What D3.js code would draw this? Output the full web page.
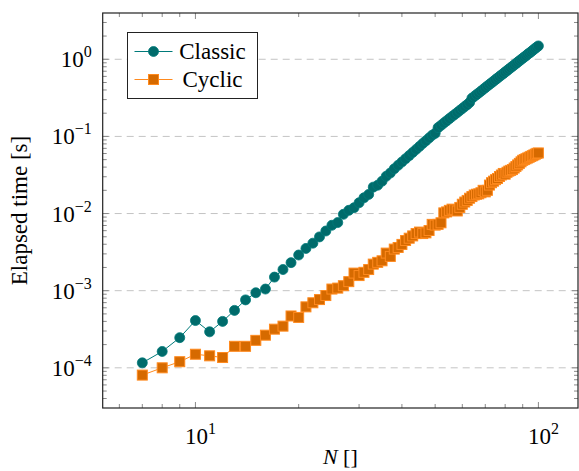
<!DOCTYPE html>
<html>
<head>
<meta charset="utf-8">
<script src="https://cdn.jsdelivr.net/npm/d3@7"></script>
<style>
  body { margin: 0; background: #fff; }
</style>
</head>
<body>
<div id="chart"></div>
<script>
var w = 579;
var h = 471;

// problem sizes N = 7..100
var sizes = [];
for (var n = 7; n <= 100; n++) sizes.push(n);

// elapsed time [s]
var classicTimes = [
  1.16e-4, 1.63e-4, 2.46e-4, 4.1e-4, 2.93e-4, 4.0e-4, 5.55e-4, 7.6e-4, 9.4e-4, 1.05e-3,
  1.5e-3, 1.88e-3, 2.31e-3, 2.9e-3, 3.53e-3, 4.13e-3, 4.98e-3, 5.94e-3, 7.05e-3, 7.64e-3,
  9.77e-3, 1.10e-2, 1.19e-2, 1.38e-2, 1.60e-2, 1.77e-2, 2.20e-2, 2.33e-2, 2.62e-2, 3.04e-2,
  3.35e-2, 3.80e-2, 4.22e-2, 4.66e-2, 5.13e-2, 5.64e-2, 6.19e-2, 6.78e-2, 7.41e-2, 8.09e-2,
  8.79e-2, 9.55e-2, 0.1035, 0.1096, 0.130, 0.139, 0.149, 0.159, 0.170, 0.181,
  0.192, 0.204, 0.217, 0.230, 0.244, 0.258, 0.275, 0.313, 0.330, 0.348,
  0.366, 0.386, 0.406, 0.428, 0.450, 0.472, 0.495, 0.519, 0.545, 0.570,
  0.597, 0.624, 0.652, 0.682, 0.713, 0.743, 0.776, 0.809, 0.843, 0.879,
  0.914, 0.953, 0.991, 1.03, 1.07, 1.11, 1.16, 1.20, 1.24, 1.29,
  1.34, 1.39, 1.44, 1.49
];

var cyclicTimes = [
  8.05e-5, 1.0e-4, 1.2e-4, 1.5e-4, 1.43e-4, 1.36e-4, 1.9e-4, 1.9e-4, 2.27e-4, 2.65e-4,
  3.17e-4, 3.47e-4, 4.7e-4, 4.5e-4, 6.17e-4, 6.97e-4, 7.67e-4, 8.65e-4, 1.05e-3, 1.08e-3,
  1.16e-3, 1.31e-3, 1.69e-3, 1.57e-3, 1.73e-3, 1.88e-3, 2.21e-3, 2.33e-3, 2.44e-3, 3.07e-3,
  2.78e-3, 3.46e-3, 3.63e-3, 3.98e-3, 4.47e-3, 4.79e-3, 5.13e-3, 5.50e-3, 5.75e-3, 5.50e-3,
  5.62e-3, 6.03e-3, 7.24e-3, 7.08e-3, 7.24e-3, 7.59e-3, 1.02e-2, 1.05e-2, 1.10e-2, 1.14e-2,
  1.12e-2, 1.08e-2, 1.20e-2, 1.32e-2, 1.41e-2, 1.48e-2, 1.58e-2, 1.66e-2, 1.74e-2, 1.78e-2,
  1.80e-2, 1.86e-2, 2.00e-2, 1.91e-2, 2.00e-2, 2.34e-2, 2.51e-2, 2.63e-2, 2.75e-2, 2.85e-2,
  3.02e-2, 3.16e-2, 3.31e-2, 3.24e-2, 3.43e-2, 3.55e-2, 3.63e-2, 3.72e-2, 3.89e-2, 4.07e-2,
  4.27e-2, 4.47e-2, 4.68e-2, 4.90e-2, 5.01e-2, 5.13e-2, 5.25e-2, 5.37e-2, 5.50e-2, 5.62e-2,
  5.75e-2, 5.89e-2, 6.03e-2, 6.10e-2
];

var seriesNames = ["Classic", "Cyclic"];

var margin = { left: 102.7, right: 1, top: 13, bottom: 63 };
var plotW = w - margin.left - margin.right;
var plotH = h - margin.top - margin.bottom;

// log limits enlarged by 10% on each side, like pgfplots
function enlarged(lo, hi) {
  var a = Math.log10(lo), b = Math.log10(hi), d = (b - a) * 0.1;
  return [Math.pow(10, a - d), Math.pow(10, b + d)];
}
var allTimes = classicTimes.concat(cyclicTimes);

var x = d3.scaleLog()
  .domain(enlarged(d3.min(sizes), d3.max(sizes)))
  .range([0, plotW]);
var y = d3.scaleLog()
  .domain(enlarged(d3.min(allTimes), d3.max(allTimes)))
  .range([plotH, 0]);

var svg = d3.select("#chart").append("svg")
  .attr("width", w)
  .attr("height", h)
  .attr("font-family", "'Liberation Serif', 'Times New Roman', serif");

var g = svg.append("g")
  .attr("transform", "translate(" + margin.left + "," + margin.top + ")");

function isMajor(v) {
  var l = Math.log10(v);
  return Math.abs(l - Math.round(l)) < 1e-9;
}

var xTicks = x.ticks();
var yTicks = y.ticks();

// dashed grid on major y ticks
g.selectAll(".grid")
  .data(yTicks.filter(isMajor))
  .enter().append("line")
  .attr("x1", 0).attr("x2", plotW)
  .attr("y1", function(d) { return y(d); })
  .attr("y2", function(d) { return y(d); })
  .attr("stroke", "#c4c4c4")
  .attr("stroke-width", 1)
  .attr("stroke-dasharray", "7,5");

// ticks on all four sides, pointing in
var tickCol = "#8a8a8a";
xTicks.forEach(function(t) {
  var len = isMajor(t) ? 6 : 4;
  g.append("line").attr("x1", x(t)).attr("x2", x(t))
    .attr("y1", plotH).attr("y2", plotH - len)
    .attr("stroke", tickCol).attr("stroke-width", 1);
  g.append("line").attr("x1", x(t)).attr("x2", x(t))
    .attr("y1", 0).attr("y2", len)
    .attr("stroke", tickCol).attr("stroke-width", 1);
});
yTicks.forEach(function(t) {
  var len = isMajor(t) ? 6 : 4;
  g.append("line").attr("y1", y(t)).attr("y2", y(t))
    .attr("x1", 0).attr("x2", len)
    .attr("stroke", tickCol).attr("stroke-width", 1);
  g.append("line").attr("y1", y(t)).attr("y2", y(t))
    .attr("x1", plotW).attr("x2", plotW - len)
    .attr("stroke", tickCol).attr("stroke-width", 1);
});

// tick labels as 10^k
function powLabel(sel, exp) {
  sel.append("tspan").text("10");
  sel.append("tspan")
    .attr("dy", -10)
    .attr("font-size", 16)
    .text(exp < 0 ? "\u2212" + (-exp) : exp);
}
xTicks.filter(isMajor).forEach(function(t) {
  var txt = g.append("text")
    .attr("x", x(t) + 5)
    .attr("y", plotH + 36)
    .attr("text-anchor", "middle")
    .attr("font-size", 23);
  powLabel(txt, Math.round(Math.log10(t)));
});
yTicks.filter(isMajor).forEach(function(t) {
  var txt = g.append("text")
    .attr("x", -11)
    .attr("y", y(t) + 8)
    .attr("text-anchor", "end")
    .attr("font-size", 23);
  powLabel(txt, Math.round(Math.log10(t)));
});

// frame
g.append("rect")
  .attr("width", plotW).attr("height", plotH)
  .attr("fill", "none")
  .attr("stroke", "#222")
  .attr("stroke-width", 1.2);

// series
var line = d3.line()
  .x(function(d) { return x(d[0]); })
  .y(function(d) { return y(d[1]); });

var classic = sizes.map(function(n, i) { return [n, classicTimes[i]]; });
var cyclic = sizes.map(function(n, i) { return [n, cyclicTimes[i]]; });

var teal = "#007a7a", tealFill = "#006b6b";
var orange = "#ff8a1e", orangeFill = "#d66a00";

g.append("path").datum(classic)
  .attr("d", line).attr("fill", "none")
  .attr("stroke", teal).attr("stroke-width", 1);
g.selectAll(".mc").data(classic).enter().append("circle")
  .attr("cx", function(d) { return x(d[0]); })
  .attr("cy", function(d) { return y(d[1]); })
  .attr("r", 5)
  .attr("fill", tealFill)
  .attr("stroke", teal).attr("stroke-width", 0.8);

g.append("path").datum(cyclic)
  .attr("d", line).attr("fill", "none")
  .attr("stroke", orange).attr("stroke-width", 1);
g.selectAll(".ms").data(cyclic).enter().append("rect")
  .attr("x", function(d) { return x(d[0]) - 5; })
  .attr("y", function(d) { return y(d[1]) - 5; })
  .attr("width", 10).attr("height", 10)
  .attr("fill", orangeFill)
  .attr("stroke", orange).attr("stroke-width", 1);

// legend
var lg = svg.append("g").attr("transform", "translate(127.5,32.5)");
lg.append("rect")
  .attr("width", 130).attr("height", 66)
  .attr("fill", "#fff").attr("stroke", "#222").attr("stroke-width", 1);
seriesNames.forEach(function(name, i) {
  var cy = 19 + i * 28;
  lg.append("line").attr("x1", 7).attr("x2", 45)
    .attr("y1", cy).attr("y2", cy)
    .attr("stroke", i == 0 ? teal : orange).attr("stroke-width", 1);
  if (i == 0) {
    lg.append("circle").attr("cx", 26).attr("cy", cy).attr("r", 5)
      .attr("fill", tealFill).attr("stroke", teal).attr("stroke-width", 0.8);
  } else {
    lg.append("rect").attr("x", 21).attr("y", cy - 5).attr("width", 10).attr("height", 10)
      .attr("fill", orangeFill).attr("stroke", orange).attr("stroke-width", 1);
  }
  lg.append("text")
    .attr("x", 85).attr("y", cy + 7)
    .attr("text-anchor", "middle")
    .attr("font-size", 23)
    .text(name);
});

// axis labels
svg.append("text")
  .attr("transform", "translate(27," + (margin.top + plotH / 2) + ") rotate(-90)")
  .attr("text-anchor", "middle")
  .attr("font-size", 23)
  .text("Elapsed time [s]");

var xl = svg.append("text")
  .attr("x", margin.left + plotW / 2)
  .attr("y", h - 7)
  .attr("text-anchor", "middle")
  .attr("font-size", 22);
xl.append("tspan").attr("font-style", "italic").text("N");
xl.append("tspan").text(" []");
</script>
</body>
</html>
